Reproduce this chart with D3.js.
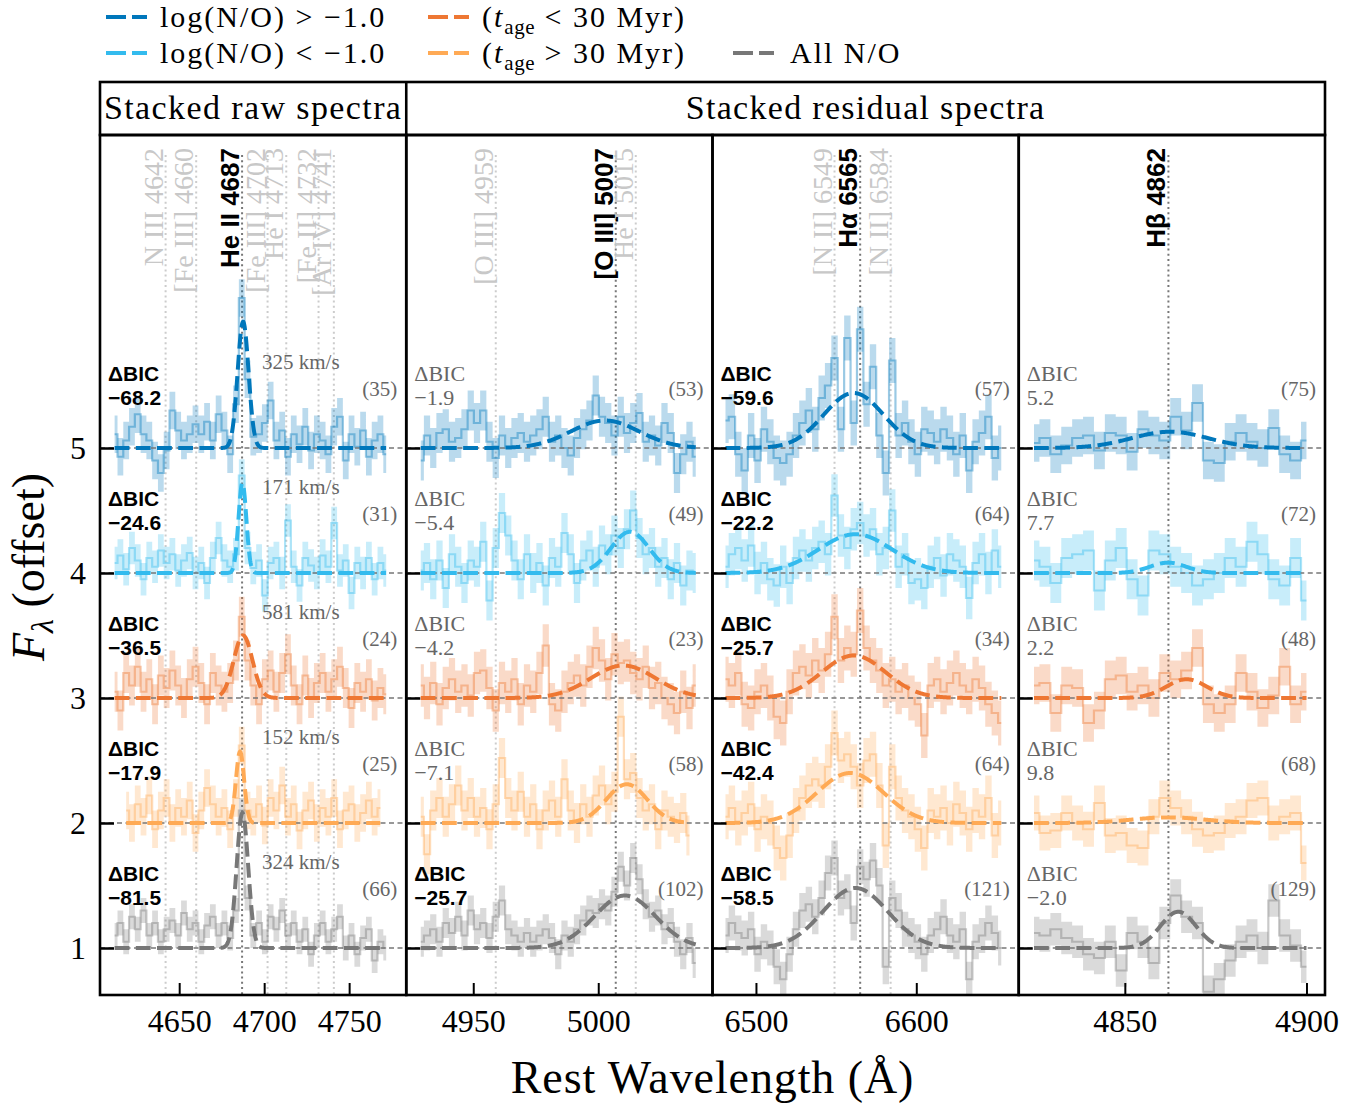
<!DOCTYPE html>
<html>
<head>
<meta charset="utf-8">
<script src="https://cdn.jsdelivr.net/npm/d3@7"></script>
<style>
  body { margin: 0; background: #fff; }
  svg { display: block; }
  text { font-family: "Liberation Serif", serif; }
</style>
</head>
<body>
<div id="chart"></div>
<script>
// ---- data ----
const rowOffsets = [5, 4, 3, 2, 1];
const rowColors = ["#0077BB", "#33BBEE", "#EE7733", "#FFAA55", "#777777"];
const legendLabels = ["log(N/O) > \u22121.0", "log(N/O) < \u22121.0", "(t|age| < 30 Myr)", "(t|age| > 30 Myr)", "All N/O"];

const panelDomains = [[4603.4, 4783.6], [4923.2, 5045.7], [6472.9, 6663.9], [4820.8, 4905.1]];
const panelTicks = [[4650, 4700, 4750], [4950, 5000], [6500, 6600], [4850, 4900]];
const yTicks = [1, 2, 3, 4, 5];

// wavelength grid of the stacked spectra (start, bin width)
const gridStart = [4612, 4929, 6481, 4825];
const gridStep = [3.4, 2.5, 4, 3];

// flux residuals above each row's offset, rows in order of rowOffsets
const fluxHeII = [
  [0.11,-0.07,0.06,0.17,0.27,0.11,0.06,-0.10,-0.20,-0.02,0.30,0.14,0.06,0.11,0.19,0.11,0.21,0.06,0.27,0.14,-0.05,0.35,1.20,0.55,0.09,0.11,0.20,0.38,0.06,0.14,-0.07,0.11,0.03,0.17,-0.02,0.11,0.06,-0.05,0.17,0.25,-0.10,0.11,0.01,0.14,-0.07,0.06,0.11,-0.05],
  [0.08,0.14,0.03,0.2,0.1,-0.05,0.12,0.05,0.18,0.08,0.15,0.02,0.1,0.16,0.0,0.08,-0.08,0.12,0.28,0.1,0.05,0.15,0.78,0.2,0.04,0.1,-0.18,0.08,0.12,0.0,0.42,0.05,-0.1,0.12,0.06,0.0,0.14,0.05,0.4,0.02,0.1,-0.16,0.08,0.0,0.12,-0.05,0.08,0.02],
  [0.05,-0.1,0.2,0.1,0.25,0.05,0.15,-0.05,0.18,0.08,0.22,0.1,0.0,0.15,0.25,0.12,-0.05,0.2,0.1,0.05,0.12,0.3,0.65,0.3,0.1,-0.05,0.15,0.22,0.05,0.2,0.35,0.1,-0.05,0.18,0.0,0.12,0.2,0.05,0.15,0.25,0.08,-0.08,0.12,0.05,0.15,-0.02,0.08,0.03],
  [null,null,0.1,0.0,0.15,0.05,0.22,-0.05,0.1,0.2,0.0,0.12,0.05,0.18,-0.08,0.1,0.28,0.15,0.05,0.12,-0.05,0.2,0.62,0.1,0.05,0.15,-0.02,0.2,0.1,0.3,0.05,0.15,-0.06,0.1,0.18,0.0,0.12,0.05,0.2,-0.05,0.1,0.15,0.0,0.08,0.18,0.05,0.12,null],
  [0.1,0.2,0.05,0.25,0.15,0.3,0.1,0.2,0.05,0.15,0.22,0.1,0.28,0.15,0.2,0.05,0.18,0.25,0.1,0.2,0.08,0.3,1.1,0.4,0.1,0.2,0.05,0.25,0.15,0.3,0.1,0.2,0.05,0.15,-0.05,0.1,0.2,0.05,0.15,0.25,0.0,0.1,-0.05,0.08,0.15,-0.1,0.05,0.0]
];
const fluxOIII = [
  [-0.1,0.1,0.0,0.12,0.15,0.05,0.08,0.15,0.3,0.2,0.3,0.05,-0.08,0.1,0.0,0.08,0.12,0.05,0.1,0.15,0.25,0.05,0.1,0.0,-0.06,0.08,0.15,0.22,0.42,0.25,0.2,0.1,0.25,0.12,0.2,0.28,0.05,0.1,0.02,0.2,0.12,-0.2,-0.05,0.05,-0.07],
  [0.02,0.08,-0.05,0.1,-0.12,0.15,0.05,-0.08,0.1,0.05,0.25,-0.22,0.2,0.48,0.3,0.1,-0.05,0.15,0.0,0.08,-0.1,0.12,0.05,0.32,0.15,-0.08,0.1,0.18,0.05,0.22,0.15,0.3,0.2,0.35,0.5,0.28,0.15,0.2,0.05,0.12,-0.05,0.08,-0.1,0.02,0.0],
  [0.1,0.0,0.12,-0.05,0.08,0.15,0.05,0.1,0.02,0.2,0.22,0.08,-0.1,0.12,0.05,0.15,-0.05,0.1,0.05,0.2,0.42,-0.05,-0.1,0.05,0.12,0.18,0.1,0.25,0.4,0.3,0.15,0.35,0.28,0.3,0.2,0.15,0.25,0.08,0.12,0.0,-0.05,-0.12,0.05,-0.08,0.1],
  [0.05,-0.25,0.1,0.2,0.05,0.15,0.3,0.1,0.2,0.05,0.12,-0.05,0.15,0.52,0.2,0.1,0.25,0.05,0.15,-0.05,0.1,0.18,0.05,0.35,0.1,0.0,0.15,0.05,0.22,0.3,0.15,0.25,0.85,0.35,0.4,0.2,0.1,0.15,-0.05,0.1,0.05,0.0,0.08,-0.1,null],
  [0.05,0.1,0.15,0.05,0.2,0.12,0.25,0.1,0.3,0.15,0.2,0.08,0.25,0.38,0.15,0.1,0.05,0.12,0.05,0.1,0.15,0.08,-0.05,0.1,0.05,0.15,0.22,0.3,0.28,0.35,0.3,0.45,0.65,0.5,0.72,0.55,0.35,0.25,0.3,0.15,0.2,0.05,-0.05,0.08,-0.12]
];
const fluxHa = [
  [0.22,0.25,-0.05,-0.18,0.1,-0.1,0.15,0.05,-0.08,-0.12,-0.05,0.1,0.2,0.3,0.15,0.4,0.5,0.72,0.15,0.88,0.2,0.95,0.35,0.65,0.1,-0.2,0.7,0.1,0.2,0.05,-0.05,0.15,0.12,0.05,0.15,0.08,-0.05,0.1,-0.18,0.05,0.12,0.25,-0.08,0.0],
  [0.05,0.15,0.2,0.1,0.22,0.0,0.08,-0.05,-0.1,0.05,-0.08,0.12,0.18,0.1,0.2,0.25,0.15,0.62,0.3,0.2,0.35,0.4,0.3,0.35,0.15,0.2,0.5,0.05,0.15,-0.08,-0.05,-0.12,0.05,0.12,-0.02,0.15,0.1,0.05,-0.2,0.08,0.15,0.0,0.18,0.05],
  [0.15,0.1,0.2,-0.05,-0.08,0.05,0.1,0.0,-0.15,-0.2,0.05,0.2,0.25,0.18,0.3,0.22,0.35,0.65,0.3,0.4,0.35,0.7,0.4,0.3,0.22,0.1,0.15,0.05,0.1,0.0,-0.05,-0.3,0.1,0.15,0.05,0.12,0.2,0.1,0.05,0.15,0.08,-0.05,-0.12,-0.2],
  [0.05,0.12,0.0,0.08,0.15,-0.05,0.05,0.0,-0.2,-0.28,-0.1,0.1,0.2,0.3,0.35,0.3,0.45,0.72,0.5,0.55,0.45,0.3,0.5,0.55,0.3,-0.18,0.45,0.2,0.1,0.05,-0.05,-0.2,0.1,0.05,0.12,0.0,0.15,0.08,-0.05,0.1,0.05,0.2,-0.1,0.0],
  [0.1,0.2,0.12,0.08,0.15,-0.05,0.05,0.0,-0.15,-0.25,-0.05,0.15,0.3,0.35,0.25,0.4,0.6,0.72,0.4,0.45,0.2,0.65,0.55,0.7,0.5,-0.15,0.4,0.3,0.15,0.1,0.05,-0.05,0.1,0.15,0.25,0.1,0.05,0.15,-0.25,0.05,0.1,0.2,0.12,0.0]
];
const fluxHb = [
  [0.04,0.08,-0.05,0.02,0.08,0.1,-0.02,0.12,0.1,-0.03,0.15,0.1,0.06,0.25,0.14,0.36,-0.1,-0.12,0.05,0.12,0.05,0.0,0.16,-0.05,-0.1,0.06],
  [0.1,0.05,-0.08,0.12,0.15,0.18,-0.14,0.1,0.2,-0.05,-0.18,0.18,0.15,0.05,0.0,-0.1,-0.05,0.0,0.12,0.05,0.25,0.15,-0.05,-0.1,0.12,-0.22],
  [0.1,0.12,-0.12,0.1,0.08,-0.2,-0.1,0.15,0.18,0.05,0.1,0.0,0.2,0.15,0.22,0.4,-0.05,-0.12,-0.05,0.2,0.05,-0.08,0.02,0.25,-0.05,0.05],
  [0.08,-0.08,-0.06,0.08,0.0,-0.05,0.16,-0.1,-0.08,-0.18,-0.2,0.05,0.2,0.12,0.05,-0.05,-0.1,-0.08,0.02,0.05,0.18,0.2,0.0,0.05,0.08,-0.32],
  [0.12,0.1,0.15,0.08,0.05,-0.05,-0.08,0.05,-0.18,0.12,0.05,-0.12,0.2,0.42,0.25,0.2,-0.35,-0.25,-0.1,0.05,0.1,0.0,0.38,0.1,0.02,-0.15]
];
const fluxErr = [
  [0.15, 0.13, 0.16, 0.15, 0.10],
  [0.16, 0.16, 0.17, 0.16, 0.12],
  [0.18, 0.17, 0.18, 0.18, 0.14],
  [0.15, 0.16, 0.15, 0.14, 0.13]
];

// gaussian fits: [amplitude, centre (A), sigma (A)]
const fitHeII = [[1.01, 4687.6, 3.2], [0.72, 4687.2, 2.3], [0.50, 4687.6, 5.5], [0.57, 4685.8, 2.4], [1.08, 4687.2, 3.4]];
const fitOIII = [[0.22, 5002.7, 13.6], [0.33, 5012.7, 7.6], [0.26, 5010.0, 13.0], [0.31, 5011.4, 8.2], [0.42, 5010.7, 12.2]];
const fitHa = [[0.44, 6560.9, 18.6], [0.31, 6562.0, 23.0], [0.34, 6561.0, 19.9], [0.40, 6558.8, 20.8], [0.48, 6562.0, 20.3]];
const fitHb = [[0.13, 4862.4, 10.5], [0.083, 4861.9, 5.0], [0.15, 4867.0, 5.6], [0.045, 4862.0, 10.0], [0.29, 4864.7, 4.9]];

const deltaBIC = [
  [-68.2, -24.6, -36.5, -17.9, -81.5],
  [-1.9, -5.4, -4.2, -7.1, -25.7],
  [-59.6, -22.2, -25.7, -42.4, -58.5],
  [5.2, 7.7, 2.2, 9.8, -2.0]
];
const nStacked = [[35, 31, 24, 25, 66], [53, 49, 23, 58, 102], [57, 64, 34, 64, 121], [75, 72, 48, 68, 129]];
const heIIWidth = [325, 171, 581, 152, 324];

// emission lines: [wavelength, label, fitted?]
const linesHeII = [[4642, "N III 4642", false], [4660, "[Fe III] 4660", false], [4687, "He II 4687", true],
  [4702, "[Fe III] 4702", false], [4713, "He I 4713", false], [4732, "[Fe II] 4732", false], [4741, "[Ar IV] 4741", false]];
const linesOIII = [[4959, "[O III] 4959", false], [5007, "[O III] 5007", true], [5015, "He I 5015", false]];
const linesHa = [[6549, "[N II] 6549", false], [6565, "H\u03b1 6565", true], [6584, "[N II] 6584", false]];
const linesHb = [[4862, "H\u03b2 4862", true]];

const fluxes = [fluxHeII, fluxOIII, fluxHa, fluxHb];
const fits = [fitHeII, fitOIII, fitHa, fitHb];
const lines = [linesHeII, linesOIII, linesHa, linesHb];

// ---- layout ----
const W = 1366, H = 1103;
const plotLeft = 100, plotRight = 1325, plotTop = 135, plotBottom = 995;
const headTop = 82;
const panelW = (plotRight - plotLeft) / 4;
const fitDash = "14.8,6.4";

const svg = d3.select("#chart").append("svg").attr("width", W).attr("height", H);
const defs = svg.append("defs");

const y = d3.scaleLinear().domain([0.624, 7.504]).range([plotBottom, plotTop]);

function fmt(v) {
    return (v < 0 ? "\u2212" : "") + Math.abs(v).toFixed(1);
}

for (let p = 0; p < 4; p++) {
    const x0 = plotLeft + p * panelW, x1 = x0 + panelW;
    const x = d3.scaleLinear().domain(panelDomains[p]).range([x0, x1]);

    defs.append("clipPath").attr("id", "clip" + p)
        .append("rect").attr("x", x0).attr("y", plotTop).attr("width", panelW).attr("height", plotBottom - plotTop);

    const g = svg.append("g").attr("clip-path", `url(#clip${p})`);

    // line markers
    lines[p].forEach(([w, label, main]) => {
        g.append("line")
            .attr("x1", x(w)).attr("x2", x(w))
            .attr("y1", 155).attr("y2", plotBottom)
            .attr("stroke", main ? "#777" : "#ccc")
            .attr("stroke-width", 2)
            .attr("stroke-dasharray", "2,3.2");
        svg.append("text")
            .attr("transform", `translate(${x(w) - 3},148) rotate(-90)`)
            .attr("text-anchor", "end")
            .style("font-family", main ? "'Liberation Sans', sans-serif" : "'Liberation Serif', serif")
            .style("font-weight", main ? "bold" : "normal")
            .style("font-size", main ? "26px" : "28px")
            .attr("fill", main ? "#000" : "#c8c8c8")
            .text(label);
    });

    // stacked spectra with error bands
    fluxes[p].forEach((row, r) => {
        const off = rowOffsets[r], e = fluxErr[p][r];
        const pts = row.map((v, i) => ({ w: gridStart[p] + i * gridStep[p], v }));
        const area = d3.area()
            .defined(d => d.v !== null)
            .curve(d3.curveStep)
            .x(d => x(d.w))
            .y0(d => y(off + d.v - e))
            .y1(d => y(off + d.v + e));
        const line = d3.line()
            .defined(d => d.v !== null)
            .curve(d3.curveStep)
            .x(d => x(d.w))
            .y(d => y(off + d.v));
        g.append("path").attr("d", area(pts))
            .attr("fill", rowColors[r]).attr("fill-opacity", 0.27);
        g.append("path").attr("d", line(pts))
            .attr("fill", "none").attr("stroke", rowColors[r])
            .attr("stroke-opacity", 0.4).attr("stroke-width", 2.2);
    });

    // zero levels
    rowOffsets.forEach(off => {
        g.append("line")
            .attr("x1", x0).attr("x2", x1)
            .attr("y1", y(off)).attr("y2", y(off))
            .attr("stroke", "#777").attr("stroke-width", 1.6)
            .attr("stroke-dasharray", "5,3.5");
    });

    // gaussian fits
    fits[p].forEach(([amp, mu, sig], r) => {
        const off = rowOffsets[r];
        const waves = fluxes[p][r].map((v, i) => v === null ? null : gridStart[p] + i * gridStep[p]).filter(w => w !== null);
        const wMin = d3.min(waves), wMax = d3.max(waves);
        const model = d3.range(wMin, wMax + 0.01, 0.25).map(w => ({ w, f: off + amp * Math.exp(-((w - mu) ** 2) / (2 * sig * sig)) }));
        g.append("path")
            .attr("d", d3.line().x(d => x(d.w)).y(d => y(d.f))(model))
            .attr("fill", "none").attr("stroke", rowColors[r])
            .attr("stroke-width", 4).attr("stroke-dasharray", fitDash);
    });

    // annotations
    rowOffsets.forEach((off, r) => {
        const v = deltaBIC[p][r];
        const strong = v < -10;
        const t = svg.append("text")
            .attr("x", x0 + 8)
            .style("font-size", strong ? "21px" : "22px")
            .style("font-family", strong ? "'Liberation Sans', sans-serif" : "'Liberation Serif', serif")
            .style("font-weight", strong ? "bold" : "normal")
            .attr("fill", strong ? "#000" : "#666");
        t.append("tspan").attr("x", x0 + 8).attr("y", y(off + 0.6) + 8).text("\u0394BIC");
        t.append("tspan").attr("x", x0 + 8).attr("y", y(off + 0.41) + 8).text(fmt(v));

        svg.append("text")
            .attr("x", x1 - 9).attr("y", y(off + 0.47) + 7)
            .attr("text-anchor", "end")
            .style("font-size", "21px").attr("fill", "#666")
            .text(`(${nStacked[p][r]})`);

        if (p === 0) {
            svg.append("text")
                .attr("x", 262).attr("y", y(off + 0.69) + 7)
                .style("font-size", "21px").attr("fill", "#666")
                .text(`${heIIWidth[r]} km/s`);
        }
    });

    // axes (ticks pointing inward)
    const xAxis = d3.axisBottom(x).tickValues(panelTicks[p]).tickFormat(d3.format("d"))
        .tickSizeInner(-12).tickSizeOuter(0).tickPadding(14);
    const ax = svg.append("g").attr("transform", `translate(0,${plotBottom})`).call(xAxis);
    ax.select(".domain").remove();
    ax.selectAll(".tick line").attr("stroke", "#000").attr("stroke-width", 2);
    ax.selectAll(".tick text").style("font-family", "'Liberation Serif', serif").style("font-size", "32px").attr("fill", "#000");

    const yAxis = d3.axisLeft(y).tickValues(yTicks).tickFormat(p > 0 ? "" : d3.format("d"))
        .tickSizeInner(-14).tickSizeOuter(0).tickPadding(14);
    const ay = svg.append("g").attr("transform", `translate(${x0},0)`).call(yAxis);
    ay.select(".domain").remove();
    ay.selectAll(".tick line").attr("stroke", "#000").attr("stroke-width", 2.5);
    ay.selectAll(".tick text").style("font-family", "'Liberation Serif', serif").style("font-size", "32px").attr("fill", "#000");

    // frame
    svg.append("rect")
        .attr("x", x0).attr("y", plotTop).attr("width", panelW).attr("height", plotBottom - plotTop)
        .attr("fill", "none").attr("stroke", "#000").attr("stroke-width", 2.6);
}

// header strip
svg.append("rect")
    .attr("x", plotLeft).attr("y", headTop).attr("width", plotRight - plotLeft).attr("height", plotTop - headTop)
    .attr("fill", "none").attr("stroke", "#000").attr("stroke-width", 2.6);
svg.append("line")
    .attr("x1", plotLeft + panelW).attr("x2", plotLeft + panelW)
    .attr("y1", headTop).attr("y2", plotTop)
    .attr("stroke", "#000").attr("stroke-width", 2.6);
svg.append("text")
    .attr("x", plotLeft + panelW / 2).attr("y", 119).attr("text-anchor", "middle")
    .style("font-size", "34px").style("letter-spacing", "1.4px").text("Stacked raw spectra");
svg.append("text")
    .attr("x", plotLeft + panelW * 2.5).attr("y", 119).attr("text-anchor", "middle")
    .style("font-size", "34px").style("letter-spacing", "1.3px").text("Stacked residual spectra");

// axis titles
svg.append("text")
    .attr("x", (plotLeft + plotRight) / 2).attr("y", 1093).attr("text-anchor", "middle")
    .style("font-size", "46px").style("letter-spacing", "0.9px").text("Rest Wavelength (\u00c5)");
const yl = svg.append("text")
    .attr("transform", `translate(44,567) rotate(-90)`).attr("text-anchor", "middle")
    .style("font-size", "46px");
yl.append("tspan").style("font-style", "italic").text("F");
yl.append("tspan").style("font-size", "32px").style("font-style", "italic").attr("dy", 9).text("\u03bb");
yl.append("tspan").attr("dy", -9).text(" (offset)");

// legend
const legendPos = [[106, 27], [106, 63], [428, 27], [428, 63], [733, 63]];
legendLabels.forEach((label, i) => {
    const [lx, ly] = legendPos[i];
    svg.append("line")
        .attr("x1", lx).attr("x2", lx + 41)
        .attr("y1", ly - 10).attr("y2", ly - 10)
        .attr("stroke", rowColors[i]).attr("stroke-width", 4)
        .attr("stroke-dasharray", "20,6");
    const t = svg.append("text").attr("x", lx + (i === 4 ? 57 : 54)).attr("y", ly)
        .style("font-size", "30px").style("letter-spacing", "2px");
    if (label.includes("|")) {
        const [a, sub, b] = label.split("|");
        t.append("tspan").text(a.slice(0, -1));
        t.append("tspan").style("font-style", "italic").text("t");
        t.append("tspan").style("font-size", "21px").style("letter-spacing", "0.5px").attr("dy", 7).text(sub);
        t.append("tspan").attr("dy", -7).text(b);
    } else {
        t.text(label);
    }
});
</script>
</body>
</html>
